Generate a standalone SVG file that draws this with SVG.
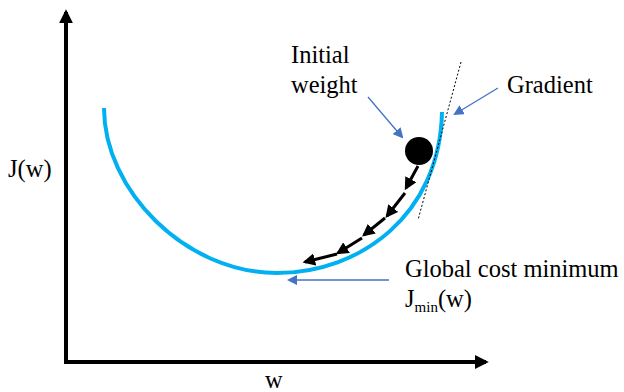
<svg xmlns="http://www.w3.org/2000/svg" width="624" height="392" viewBox="0 0 624 392" font-family="'Liberation Serif', 'Times New Roman', serif">
<style>
text{font-family:'Liberation Serif','Times New Roman',serif;font-size:24.5px;fill:#000}
.axis{stroke:#000;stroke-width:4;fill:none}
.curve{stroke:#00B0F0;stroke-width:4;fill:none}
.step{stroke:#000;stroke-width:3;fill:none;marker-end:url(#bh)}
.note{stroke:#4472C4;stroke-width:1.3;fill:none;marker-end:url(#nh)}
</style>
<defs>
<marker id="bh" viewBox="0 0 10 10" refX="8" refY="5" markerWidth="4.2" markerHeight="4.2" orient="auto" markerUnits="strokeWidth"><path d="M0,0L10,5L0,10z" fill="#000"/></marker>
<marker id="nh" viewBox="0 0 10 10" refX="8" refY="5" markerWidth="8" markerHeight="8" orient="auto" markerUnits="strokeWidth"><path d="M0,0L10,5L0,10z" fill="#4472C4"/></marker>
<marker id="ah" viewBox="0 0 10 10" refX="8" refY="5" markerWidth="3.5" markerHeight="3.5" orient="auto" markerUnits="strokeWidth"><path d="M0,0L10,5L0,10z" fill="#000"/></marker>
</defs>
<g id="axes">
<line class="axis" x1="66" y1="362" x2="66" y2="12" marker-end="url(#ah)"/>
<line class="axis" x1="64" y1="362" x2="486" y2="362" marker-end="url(#ah)"/>
<text x="8" y="177">J(w)</text>
<text x="265" y="388">w</text>
</g>
<g id="cost-curve">
<path class="curve" d="M104,108 C104,190 185,273 277,273 C360,273 440,215 442,112"/>
</g>
<g id="tangent">
<line x1="461" y1="62" x2="418" y2="220" stroke="#000" stroke-width="1" stroke-dasharray="2,2"/>
</g>
<g id="ball">
<circle cx="419" cy="151" r="14" fill="#000"/>
</g>
<g id="connectors">
<line class="step" x1="418" y1="166" x2="406" y2="188"/>
<line class="step" x1="405" y1="193" x2="387" y2="216"/>
<line class="step" x1="385" y1="218" x2="364" y2="235"/>
<line class="step" x1="362" y1="238" x2="338" y2="253"/>
<line class="step" x1="337" y1="254" x2="305" y2="262"/>
<line class="note" x1="368" y1="97" x2="402" y2="137"/>
<line class="note" x1="498" y1="88" x2="455" y2="114"/>
<line class="note" x1="389" y1="280" x2="289" y2="280"/>
</g>
<g id="label-initial">
<text x="291" y="63">Initial</text>
<text x="291" y="93">weight</text>
</g>
<g id="label-gradient">
<text x="507" y="93">Gradient</text>
</g>
<g id="label-min">
<text x="405" y="277">Global cost minimum</text>
<text x="405" y="307">J<tspan font-size="15" dy="5" fill="#000">min</tspan><tspan dy="-5">(w)</tspan></text>
</g>
</svg>
